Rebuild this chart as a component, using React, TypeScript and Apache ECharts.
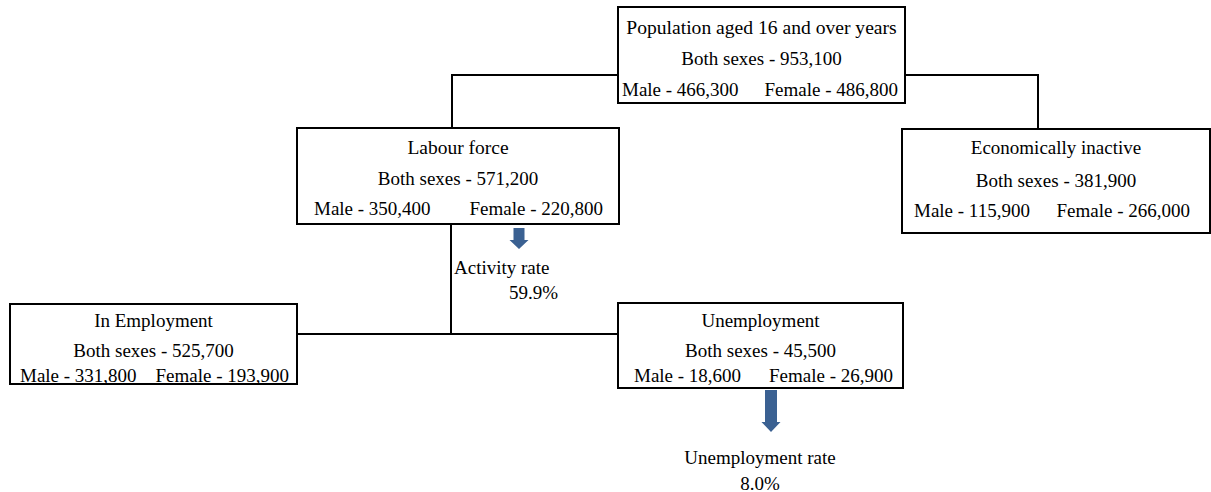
import React, { useEffect, useRef } from "react";
import * as echarts from "echarts";

const boxTitles = [
  "Population aged 16 and over years",
  "Labour force",
  "Economically inactive",
  "In Employment",
  "Unemployment",
];
const bothSexes = [953100, 571200, 381900, 525700, 45500];
const maleValues = [466300, 350400, 115900, 331800, 18600];
const femaleValues = [486800, 220800, 266000, 193900, 26900];
const rateLabels = ["Activity rate", "Unemployment rate"];
const rateValues = [59.9, 8.0];

const FONT = "'Liberation Serif', 'Times New Roman', serif";
const FS = 19;
const ARROW = "#3b6192";

const layout = [
  { x: 618, y: 7, w: 287, h: 96, ly: [27, 58, 89], mx: 622, fx: 898, tfs: 19.6 },
  { x: 297, y: 128, w: 322, h: 96, ly: [147, 178, 208], mx: 314, fx: 603, tfs: 19.5 },
  { x: 902, y: 129, w: 308, h: 104, ly: [147, 180, 210], mx: 914, fx: 1190, tfs: 19 },
  { x: 10, y: 304, w: 287, h: 80, ly: [320, 350, 375], mx: 20, fx: 289, tfs: 19 },
  { x: 618, y: 303, w: 285, h: 85, ly: [320, 350, 375], mx: 634, fx: 893, tfs: 19 },
];

const fmt = (v: number) => v.toLocaleString("en-US");

function txt(text: string, x: number, y: number, align = "center", fs = FS) {
  return {
    type: "text",
    x,
    y,
    z: 10,
    style: {
      text,
      fill: "#000",
      font: fs + "px " + FONT,
      fontSize: fs,
      fontFamily: FONT,
      align,
      verticalAlign: "middle",
    },
  };
}

function line(points: number[][]) {
  return {
    type: "polyline",
    shape: { points },
    style: { stroke: "#000", lineWidth: 2, fill: null },
    z: 1,
  };
}

function arrow(cx: number, y0: number, yNeck: number, y1: number, shaftHalf: number, headHalf: number) {
  return {
    type: "polygon",
    z: 5,
    shape: {
      points: [
        [cx - shaftHalf, y0],
        [cx + shaftHalf, y0],
        [cx + shaftHalf, yNeck],
        [cx + headHalf, yNeck],
        [cx, y1],
        [cx - headHalf, yNeck],
        [cx - shaftHalf, yNeck],
      ],
    },
    style: { fill: ARROW, stroke: null },
  };
}

export default function App() {
  const ref = useRef<HTMLDivElement>(null);
  useEffect(() => {
    if (!ref.current) return;
    const chart = echarts.init(ref.current, undefined, { renderer: "svg" });
    const elements: any[] = [];
    // connectors
    elements.push(line([[618, 75], [452, 75], [452, 128]]));
    elements.push(line([[905, 75], [1038, 75], [1038, 129]]));
    elements.push(line([[451, 224], [451, 334]]));
    elements.push(line([[297, 334], [618, 334]]));
    // boxes
    layout.forEach((b, i) => {
      elements.push({
        type: "rect",
        z: 3,
        shape: { x: b.x, y: b.y, width: b.w, height: b.h },
        style: { fill: "#fff", stroke: "#000", lineWidth: 2 },
      });
      const cx = b.x + b.w / 2;
      elements.push(txt(boxTitles[i], cx, b.ly[0], "center", b.tfs));
      elements.push(txt("Both sexes - " + fmt(bothSexes[i]), cx, b.ly[1]));
      elements.push(txt("Male - " + fmt(maleValues[i]), b.mx, b.ly[2], "left"));
      elements.push(txt("Female - " + fmt(femaleValues[i]), b.fx, b.ly[2], "right"));
    });
    // arrows and rates
    elements.push(arrow(519, 228, 240, 249, 5.5, 9.5));
    elements.push(txt(rateLabels[0], 454, 267, "left"));
    elements.push(txt(rateValues[0].toFixed(1) + "%", 509, 292, "left"));
    elements.push(arrow(771, 390, 422, 432, 6, 9.5));
    elements.push(txt(rateLabels[1], 760, 457));
    elements.push(txt(rateValues[1].toFixed(1) + "%", 760, 483));

    chart.setOption({
      animation: false,
      backgroundColor: "#fff",
      graphic: { elements },
    });
    return () => chart.dispose();
  }, []);
  return (
    <div
      ref={ref}
      style={{ position: "fixed", left: 0, top: 0, width: 1211, height: 492 }}
    />
  );
}
